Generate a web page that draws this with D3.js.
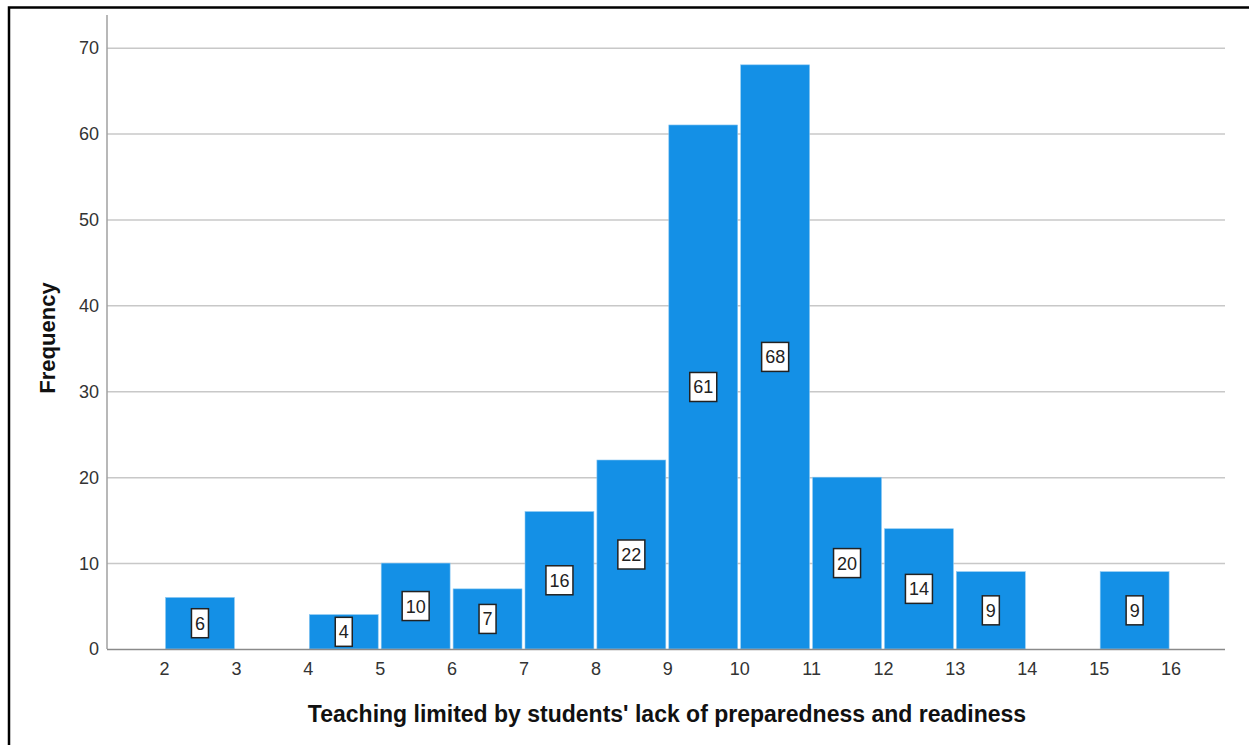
<!DOCTYPE html>
<html>
<head>
<meta charset="utf-8">
<script src="https://cdn.jsdelivr.net/npm/d3@7"></script>
<style>
  body{margin:0;background:#fff;}
  svg{display:block;font-family:'Liberation Sans',Arial,sans-serif;}
</style>
</head>
<body>
<div id="chart"></div>
<script>
// bins (lower edge, upper edge) and their counts
var binStart=[2,3,4,5,6,7,8,9,10,11,12,13,14,15];
var binEnd=[3,4,5,6,7,8,9,10,11,12,13,14,15,16];
var counts=[6,0,4,10,7,16,22,61,68,20,14,9,0,9];
var xTicks=[2,3,4,5,6,7,8,9,10,11,12,13,14,15,16];
var yTicks=[0,10,20,30,40,50,60,70];

var W=1249,H=745;
var pLeft=107,pRight=1225,pTop=15,pBottom=649;

var svg=d3.select('#chart').append('svg').attr('width',W).attr('height',H);

// outer frame
svg.append('rect').attr('x',9).attr('y',7.5).attr('width',W+20).attr('height',H+20)
  .attr('fill','none').attr('stroke','#000').attr('stroke-width',2.5);

var x=d3.scaleLinear().domain([1.2,16.75]).range([pLeft,pRight]);
var y=d3.scaleLinear().domain([0,73.8]).range([pBottom,pTop]);

// gridlines
svg.append('g').selectAll('line').data(yTicks.filter(function(d){return d>0;})).enter().append('line')
  .attr('x1',pLeft).attr('x2',pRight)
  .attr('y1',function(d){return y(d)+0.5;}).attr('y2',function(d){return y(d)+0.5;})
  .attr('stroke','#c8c8c8').attr('stroke-width',1.5);

// bars
var bins=counts.map(function(c,i){return {x0:binStart[i],x1:binEnd[i],n:c};}).filter(function(d){return d.n>0;});
svg.append('g').selectAll('rect').data(bins).enter().append('rect')
  .attr('x',function(d){return x(d.x0)+1;})
  .attr('width',function(d){return x(d.x1)-x(d.x0)-3;})
  .attr('y',function(d){return y(d.n);})
  .attr('height',function(d){return pBottom-y(d.n);})
  .attr('fill','#1490e6').attr('stroke','#8cc8f2').attr('stroke-width',0.6);

// axes lines
svg.append('line').attr('x1',pLeft).attr('x2',pLeft).attr('y1',pTop).attr('y2',pBottom)
  .attr('stroke','#a0a0a0').attr('stroke-width',1.5);
svg.append('line').attr('x1',pLeft).attr('x2',pRight).attr('y1',pBottom+0.5).attr('y2',pBottom+0.5)
  .attr('stroke','#8a8a8a').attr('stroke-width',1.5);

// y tick labels
svg.append('g').selectAll('text').data(yTicks).enter().append('text')
  .attr('x',pLeft-8).attr('y',function(d){return y(d);}).attr('dy','0.36em')
  .attr('text-anchor','end').attr('font-size',18).attr('fill','#333').text(function(d){return d;});

// x tick labels
svg.append('g').selectAll('text').data(xTicks).enter().append('text')
  .attr('x',function(d){return x(d);}).attr('y',pBottom+26)
  .attr('text-anchor','middle').attr('font-size',18).attr('fill','#333').text(function(d){return d;});

// value labels
var lab=svg.append('g').selectAll('g').data(bins).enter().append('g')
  .attr('transform',function(d){return 'translate('+(x((d.x0+d.x1)/2)-0.5)+','+y(d.n/2)+')';});
lab.append('rect')
  .attr('x',function(d){return d.n>=10?-13.5:-8.5;})
  .attr('width',function(d){return d.n>=10?27:17;})
  .attr('y',-14.5).attr('height',29)
  .attr('fill','#fff').attr('stroke','#222').attr('stroke-width',1.5);
lab.append('text').attr('text-anchor','middle').attr('dy','0.36em').attr('font-size',18).attr('fill','#222')
  .text(function(d){return d.n;});

// axis titles
svg.append('text').attr('x',667).attr('y',722).attr('text-anchor','middle')
  .attr('font-size',23).attr('font-weight','bold').attr('fill','#111')
  .text("Teaching limited by students' lack of preparedness and readiness");
svg.append('text').attr('transform','translate(55,338) rotate(-90)').attr('text-anchor','middle')
  .attr('font-size',22).attr('font-weight','bold').attr('fill','#111').text('Frequency');
</script>
</body>
</html>
